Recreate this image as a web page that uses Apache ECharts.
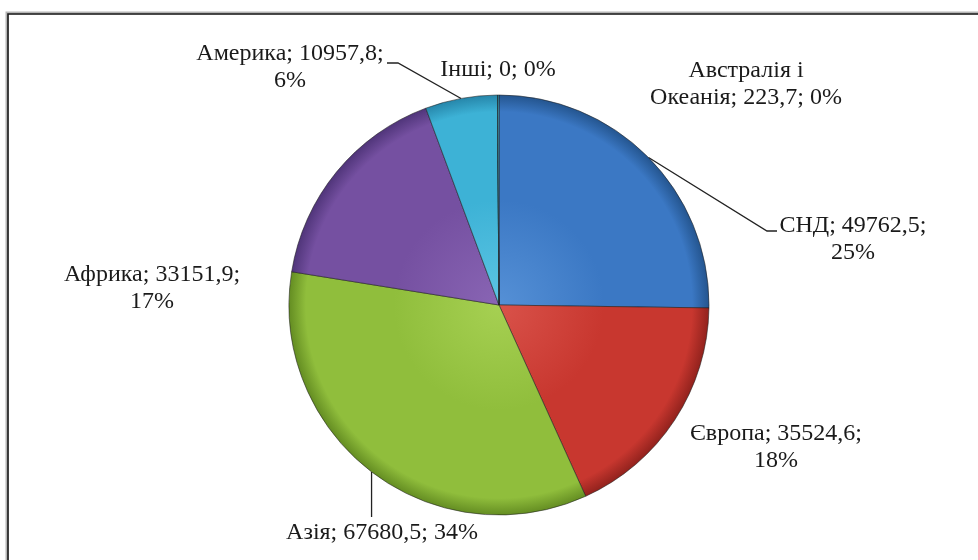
<!DOCTYPE html>
<html>
<head>
<meta charset="utf-8">
<script src="https://cdn.jsdelivr.net/npm/echarts@6/dist/echarts.min.js"></script>
<style>
html,body{margin:0;padding:0;background:#fff;}
#chart{width:978px;height:560px;}
</style>
</head>
<body>
<div id="chart"></div>
<script>
// ---- data ----
const categories = ['СНД', 'Європа', 'Азія', 'Африка', 'Америка', 'Інші', 'Австралія і Океанія'];
const values = [49762.5, 35524.6, 67680.5, 33151.9, 10957.8, 0, 223.7];

// ---- layout / style (not data) ----
const baseColors = ['#3b78c4', '#c8372f', '#90be3c', '#7550a1', '#3db2d6', '#f79646', '#4bacc6'];
const lightColors = ['#5590d6', '#d9524a', '#a6d052', '#8965b4', '#5cc5e3', '#f9ab6b', '#6fc0d6'];
const darkColors = ['#24558f', '#92221d', '#648d22', '#50357a', '#2686aa', '#c5722e', '#2f8aa3'];
const labelCenter = [[853, 239], [776, 447], [382, 533], [152, 288], [290, 67], [498, 70], [746, 84]];
const twoLine = [true, true, false, true, true, false, false];
const leaderBend = { 0: [[767, 231], [777, 231]], 2: [[null, 500], [null, 517]], 4: [[398, 63], [387, 63]] };

const CX = 499, CY = 305, R = 210;

function fmtNum(v) { return String(v).replace('.', ','); }

const chart = echarts.init(document.getElementById('chart'), null, { renderer: 'canvas' });

const seriesData = categories.map((name, i) => ({
  name: name,
  value: values[i],
  itemStyle: {
    color: {
      type: 'radial', x: CX, y: CY, r: R, global: true,
      colorStops: [
        { offset: 0, color: lightColors[i] },
        { offset: 0.5, color: baseColors[i] },
        { offset: 0.92, color: baseColors[i] },
        { offset: 1, color: darkColors[i] }
      ]
    }
  },
  labelLine: { show: leaderBend[i] !== undefined }
}));

chart.setOption({
  backgroundColor: '#ffffff',
  animation: false,
  graphic: [
    { type: 'rect', shape: { x: 7, y: 13, width: 1000, height: 600 }, style: { fill: 'none', stroke: '#b5b5b5', lineWidth: 3 }, z: 10 },
    { type: 'rect', shape: { x: 8, y: 14, width: 1000, height: 600 }, style: { fill: 'none', stroke: '#1a1a1a', lineWidth: 1.6 }, z: 11 }
  ],
  series: [{
    type: 'pie',
    center: [CX, CY],
    radius: [0, R],
    startAngle: 90,
    clockwise: true,
    avoidLabelOverlap: false,
    stillShowZeroSum: true,
    minShowLabelAngle: 0,
    itemStyle: { borderColor: 'rgba(30,30,30,0.55)', borderWidth: 1 },
    label: {
      show: true,
      position: 'outside',
      color: '#1a1a1a',
      fontFamily: 'Liberation Serif',
      fontSize: 24,
      lineHeight: 27,
      align: 'center',
      formatter: function (p) {
        const i = p.dataIndex;
        const pct = Math.round(p.percent) + '%';
        const num = fmtNum(p.value);
        if (i === 6) return 'Австралія і\nОкеанія; ' + num + '; ' + pct;
        if (twoLine[i]) return p.name + '; ' + num + ';\n' + pct;
        return p.name + '; ' + num + '; ' + pct;
      }
    },
    labelLine: {
      show: true,
      length: 20,
      length2: 10,
      smooth: false,
      lineStyle: { color: '#222222', width: 1.3 }
    },
    labelLayout: function (params) {
      const i = params.dataIndex;
      const c = labelCenter[i];
      const res = { x: c[0], y: c[1], align: 'center', verticalAlign: 'middle' };
      const bend = leaderBend[i];
      if (bend && params.labelLinePoints) {
        const p0 = params.labelLinePoints[0];
        const pts = [[p0[0], p0[1]]];
        bend.forEach(function (b) { pts.push([b[0] === null ? p0[0] : b[0], b[1]]); });
        res.labelLinePoints = pts;
      }
      return res;
    },
    data: seriesData
  }]
});
</script>
</body>
</html>
